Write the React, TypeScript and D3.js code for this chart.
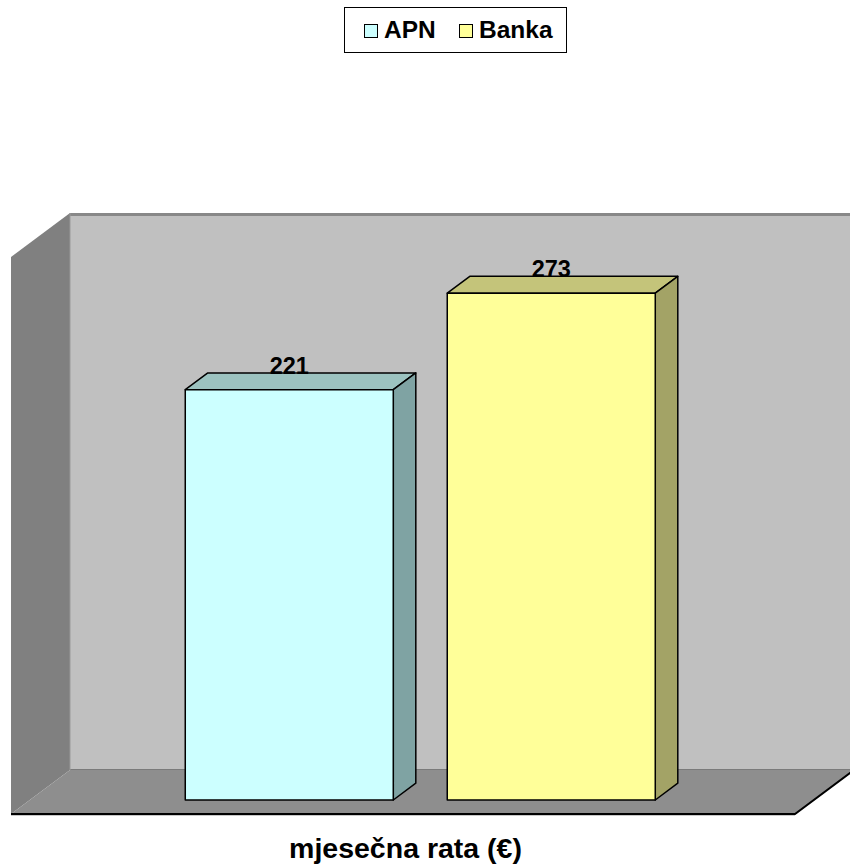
import React from "react";
import * as d3 from "d3";

const categories = ["mjesečna rata (€)"];
const seriesNames = ["APN", "Banka"];
const seriesValues = [221, 273];
const valueDomain = [0, 300];

const W = 850;
const H = 868;
// front plane of the 3D box
const X0 = 11;
const X1 = 795;
const YB = 814;
const YT = 257;
const DX = 59;
const DY = -44;
const Z_FRONT = 0.318;
const Z_BACK = 0.70;

const frontColors = ["#CCFFFF", "#FFFF99"];
const topColors = ["#9CC3C0", "#C4C47A"];
const sideColors = ["#7FA3A3", "#A3A366"];

const FONT = "'Liberation Sans', Arial, sans-serif";

export default function App() {
  const y = d3.scaleLinear().domain(valueDomain).range([0, YB - YT]);
  const cat = d3.scaleBand().domain(categories).range([X0, X1]).paddingOuter(0).paddingInner(0);
  const groupW = 470;
  const cx = (cat(categories[0]) as number) + cat.bandwidth() / 2 - 1.5;
  const inner = d3
    .scaleBand()
    .domain(seriesNames)
    .range([cx - groupW / 2, cx + groupW / 2])
    .paddingInner(0.206)
    .paddingOuter(0);

  const P = (x: number, v: number, z: number): [number, number] => [x + DX * z, YB - y(v) + DY * z];
  const pts = (a: [number, number][]) => a.map((p) => p.join(",")).join(" ");

  const backL = X0 + DX;
  const backR = X1 + DX;
  const backT = YT + DY;
  const backB = YB + DY;

  return (
    <div style={{ position: "absolute", left: 0, top: 0 }}>
      <svg width={W} height={H} style={{ display: "block" }}>
        <rect x={0} y={0} width={W} height={H} fill="#ffffff" />
        {/* back wall */}
        <rect x={backL} y={backT} width={backR - backL} height={backB - backT} fill="#C0C0C0" />
        <line x1={backL} x2={backR} y1={backT + 1.5} y2={backT + 1.5} stroke="#888888" strokeWidth={3} />
        <line x1={backL} x2={backR} y1={backB} y2={backB} stroke="#7A7A7A" strokeWidth={2} />
        {/* side wall */}
        <polygon points={pts([[X0, YT], [backL, backT], [backL, backB], [X0, YB]])} fill="#808080" />
        <line x1={backL} x2={backL} y1={backT} y2={backB} stroke="#999999" strokeWidth={1} />
        {/* floor */}
        <polygon points={pts([[X0, YB], [backL, backB], [backR, backB], [X1, YB]])} fill="#8E8E8E" />
        <line x1={X0} x2={X1} y1={YB + 1} y2={YB + 1} stroke="#c8c8c8" strokeWidth={2} />
        <polyline points={pts([[X0, YB], [X1, YB], [backR, backB]])} fill="none" stroke="#000" strokeWidth={2} />

        {/* bars */}
        {seriesNames.map((s, i) => {
          const v = seriesValues[i];
          const bx = inner(s) as number;
          const bw = inner.bandwidth();
          const fl = P(bx, v, Z_FRONT);
          const fr = P(bx + bw, v, Z_FRONT);
          const flb = P(bx, 0, Z_FRONT);
          const frb = P(bx + bw, 0, Z_FRONT);
          const bl = P(bx, v, Z_BACK);
          const br = P(bx + bw, v, Z_BACK);
          const brb = P(bx + bw, 0, Z_BACK);
          return (
            <g key={s} stroke="#000" strokeWidth={1.5} strokeLinejoin="round">
              <polygon points={pts([fl, bl, br, fr])} fill={topColors[i]} />
              <polygon points={pts([fr, br, brb, frb])} fill={sideColors[i]} />
              <polygon points={pts([fl, fr, frb, flb])} fill={frontColors[i]} />
              <text
                x={(fl[0] + fr[0]) / 2}
                y={bl[1] + 1}
                textAnchor="middle"
                fontFamily={FONT}
                fontWeight="bold"
                fontSize={23.5}
                stroke="none"
                fill="#000"
              >
                {v}
              </text>
            </g>
          );
        })}

        {/* axis title */}
        <text
          x={405.5}
          y={858}
          textAnchor="middle"
          fontFamily={FONT}
          fontWeight="bold"
          fontSize={28.5}
          fill="#000"
        >
          {categories[0]}
        </text>

        {/* legend */}
        <rect x={344.5} y={7.5} width={222} height={45} fill="#fff" stroke="#000" strokeWidth={1} />
        {seriesNames.map((s, i) => {
          const lx = i === 0 ? 364 : 459;
          return (
            <g key={"lg" + s}>
              <rect x={lx + 0.5} y={24.5} width={13} height={13} fill={frontColors[i]} stroke="#000" strokeWidth={1} />
              <text x={lx + 20} y={38} fontFamily={FONT} fontWeight="bold" fontSize={24.5} fill="#000">
                {s}
              </text>
            </g>
          );
        })}
      </svg>
    </div>
  );
}
